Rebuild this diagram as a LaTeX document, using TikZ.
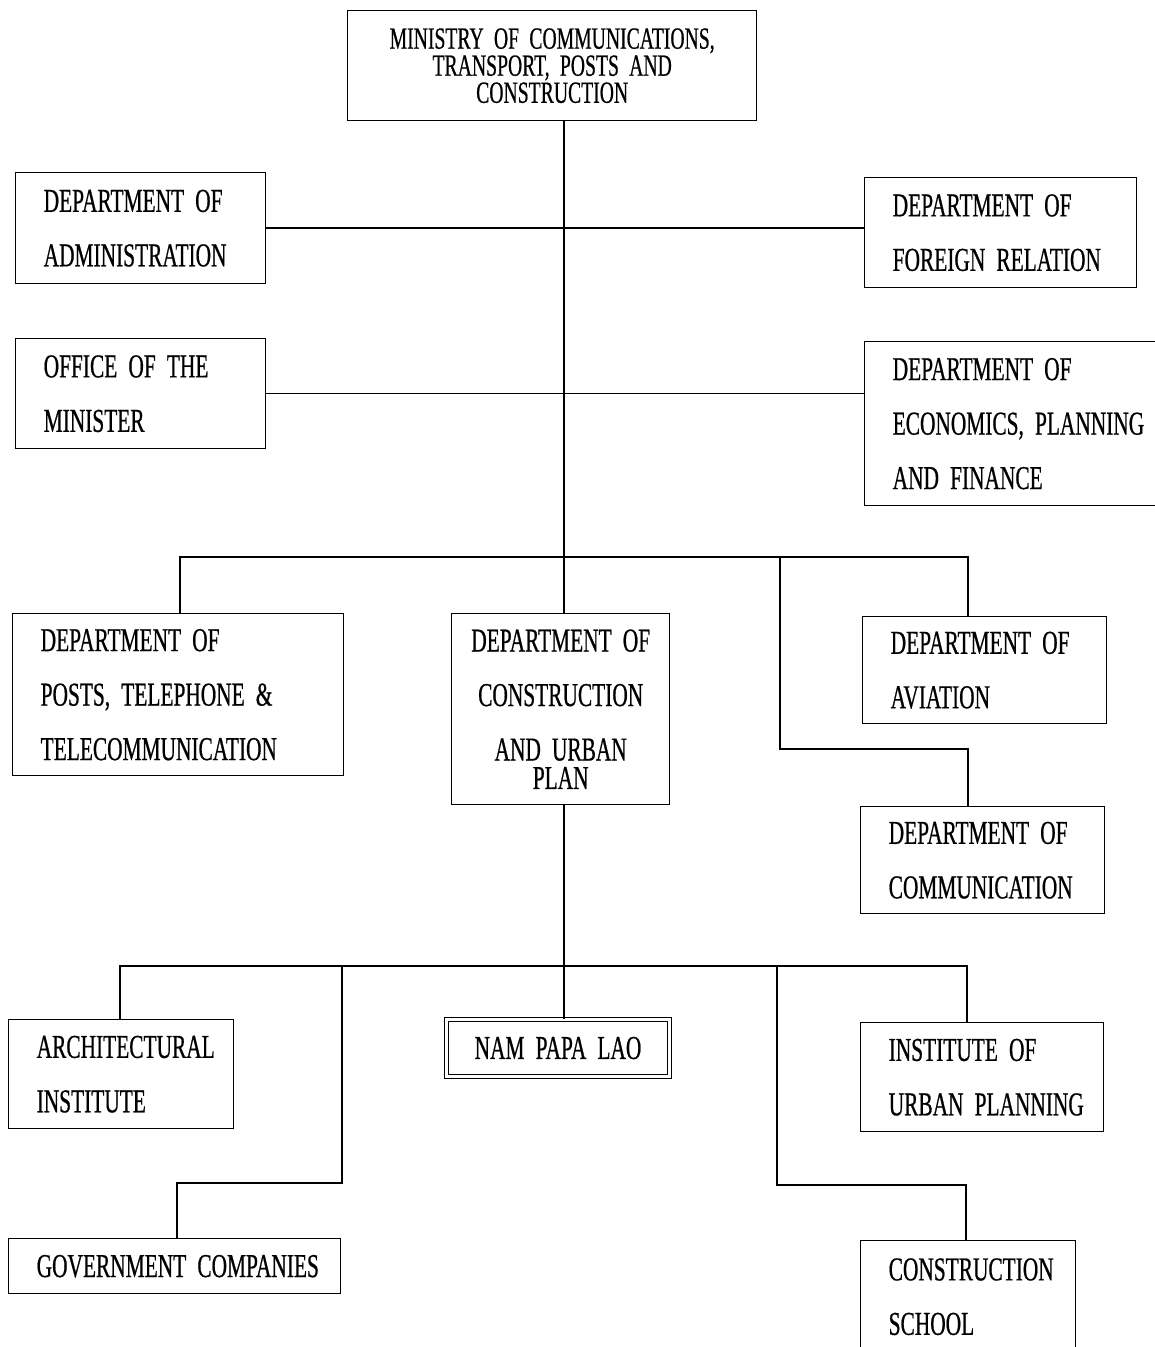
\documentclass[tikz,border=0pt]{standalone}
\usepackage{fontspec}
\setmainfont[FakeStretch=0.64, FakeBold=0.6]{Liberation Serif}
\usepackage{tikz}
\usetikzlibrary{positioning, calc}

\begin{document}
\begin{tikzpicture}[
    font=\fontsize{19}{31}\selectfont,
    line width=0.8pt,
    box/.style={rectangle, draw=black, anchor=north west, inner xsep=0.56cm, inner ysep=0pt, align=left,
        execute at begin node={\hyphenpenalty=10000}},
    cbox/.style={rectangle, draw=black, anchor=north west, inner xsep=0.2cm, inner ysep=0pt, align=center,
        execute at begin node={\hyphenpenalty=10000}},
    link/.style={draw=black, line width=0.8pt},
]
\useasboundingbox (0,0) rectangle (23.1,-26.94);
\clip (0,0) rectangle (23.1,-26.94);

% Top
\node[cbox, text width=7.78cm, minimum height=2.2cm, font=\fontsize{17.5}{15.4}\selectfont] (ministry) at (6.94,-0.2) {MINISTRY~OF~COMMUNICATIONS,\\TRANSPORT,~POSTS~AND\\CONSTRUCTION};

% Side departments
\node[box, text width=3.88cm, minimum height=2.22cm] (admin) at (0.3,-3.44) {DEPARTMENT~OF\\ADMINISTRATION};
\node[box, text width=3.88cm, minimum height=2.2cm] (office) at (0.3,-6.76) {OFFICE~OF~THE\\MINISTER};
\node[box, text width=4.32cm, minimum height=2.2cm] (foreign) at (17.28,-3.54) {DEPARTMENT~OF\\FOREIGN~RELATION};
\node[box, text width=5.28cm, minimum height=3.28cm] (econ) at (17.28,-6.82) {DEPARTMENT~OF\\ECONOMICS,~PLANNING\\AND~FINANCE};

% Main departments
\node[box, text width=5.5cm, minimum height=3.24cm] (posts) at (0.24,-12.26) {DEPARTMENT~OF\\POSTS,~TELEPHONE~\&\\TELECOMMUNICATION};
\node[cbox, text width=3.96cm, minimum height=3.82cm] (constr) at (9.02,-12.26) {DEPARTMENT~OF\\CONSTRUCTION\\AND~URBAN\\[-0.52cm]PLAN};
\node[box, text width=3.76cm, minimum height=2.14cm] (aviation) at (17.24,-12.32) {DEPARTMENT~OF\\AVIATION};
\node[box, text width=3.76cm, minimum height=2.14cm] (comm) at (17.2,-16.12) {DEPARTMENT~OF\\COMMUNICATION};

% Under construction and urban plan
\node[cbox, text width=4.06cm, minimum height=1.14cm, double, double distance=1.4pt, line width=0.6pt] (nampapa) at (8.92,-20.38) {NAM~PAPA~LAO};
\node[box, text width=3.38cm, minimum height=2.18cm] (archi) at (0.16,-20.38) {ARCHITECTURAL\\INSTITUTE};
\node[box, text width=3.74cm, minimum height=2.18cm] (inst) at (17.2,-20.44) {INSTITUTE~OF\\URBAN~PLANNING};
\node[box, text width=5.52cm, minimum height=1.1cm] (govt) at (0.16,-24.76) {GOVERNMENT~COMPANIES};
\node[box, text width=3.18cm, minimum height=2.24cm] (school) at (17.2,-24.8) {CONSTRUCTION\\SCHOOL};

% Bus coordinates
\coordinate (trunk) at (11.28,0);
\coordinate (busL) at (3.6,-11.14);
\coordinate (busR) at (19.36,-11.14);
\coordinate (commTop) at (15.6,-11.14);
\coordinate (commTurn) at (15.6,-14.98);
\coordinate (lowL) at (2.4,-19.32);
\coordinate (lowR) at (19.34,-19.32);
\coordinate (govtTop) at (6.84,-19.32);
\coordinate (govtTurn) at (6.84,-23.66);
\coordinate (govtDrop) at (3.54,-23.66);
\coordinate (schoolTop) at (15.54,-19.32);
\coordinate (schoolTurn) at (15.54,-23.7);
\coordinate (schoolDrop) at (19.32,-23.7);

% Edges
\draw[link] (ministry.south -| trunk) -- (constr.north -| trunk);
\draw[link] (admin.east) -- (admin.east -| foreign.west);
\draw[link] (office.east) -- (office.east -| econ.west);

\draw[link] (posts.north -| busL) -- (busL) -- (busR) -- (aviation.north -| busR);
\draw[link] (commTop) -- (commTurn) -- (commTurn -| busR) -- (comm.north -| busR);

\draw[link] (constr.south -| trunk) -- (nampapa.north -| trunk);
\draw[link] (archi.north -| lowL) -- (lowL) -- (lowR) -- (inst.north -| lowR);
\draw[link] (govtTop) -- (govtTurn) -- (govtDrop) -- (govt.north -| govtDrop);
\draw[link] (schoolTop) -- (schoolTurn) -- (schoolDrop) -- (school.north -| schoolDrop);

\end{tikzpicture}
\end{document}
